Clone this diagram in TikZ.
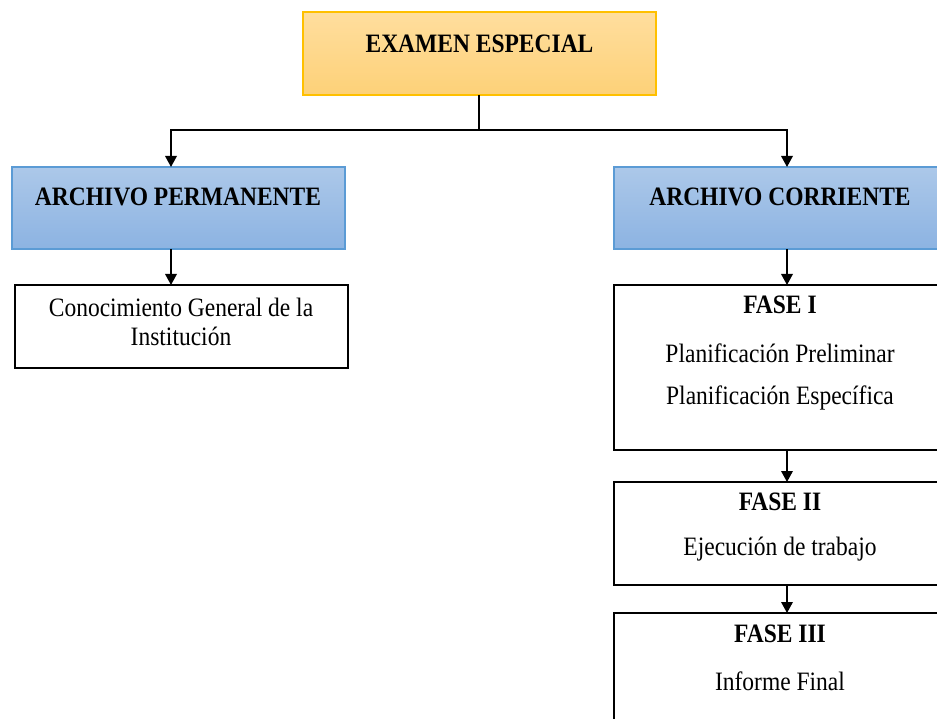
\documentclass[tikz,border=0pt]{standalone}
\usepackage{fontspec}
\usepackage{graphicx}
\setmainfont{Liberation Serif}
\usetikzlibrary{arrows.meta}

\definecolor{goldfill1}{RGB}{255,222,158}
\definecolor{goldfill2}{RGB}{253,209,120}
\definecolor{goldline}{RGB}{255,192,0}
\definecolor{bluefill1}{RGB}{172,200,233}
\definecolor{bluefill2}{RGB}{140,179,226}
\definecolor{blueline}{RGB}{91,155,213}

% slightly tall type, as set in the chart
\newcommand{\tall}[1]{\scalebox{1}[1.13]{#1}}

\tikzset{
  box/.style={rectangle, inner sep=0pt, outer sep=0pt},
  headbox/.style={box, top color=goldfill1, bottom color=goldfill2, draw=goldline, line width=1.5pt},
  filebox/.style={box, top color=bluefill1, bottom color=bluefill2, draw=blueline, line width=1.5pt},
  phasebox/.style={box, draw=black, fill=white, line width=1.8pt},
  title/.style={inner sep=0pt, font=\fontsize{23.5}{28}\selectfont\bfseries},
  body/.style={inner sep=0pt, font=\fontsize{23.5}{28}\selectfont},
  link/.style={draw=black, line width=1.8pt},
  arrowlink/.style={link, -{Triangle[length=11pt,width=11.5pt]}}
}

\begin{document}
\begin{tikzpicture}[x=1pt,y=-1pt]
\useasboundingbox (0,0) rectangle (937,719);
\clip (0,0) rectangle (937,719);

% boxes
\node[headbox, minimum width=353pt, minimum height=83pt] (exam) at (479.5,53.5) {};
\node[filebox, minimum width=333pt, minimum height=82pt] (perm) at (178.5,208) {};
\node[phasebox, minimum width=333pt, minimum height=83pt] (conoc) at (181.5,326.5) {};
\node[filebox, minimum width=333pt, minimum height=82pt] (corr) at (780.5,208) {};
\node[phasebox, minimum width=333pt, minimum height=165pt] (f1) at (780.5,367.5) {};
\node[phasebox, minimum width=333pt, minimum height=103pt] (f2) at (780.5,533.5) {};
\node[phasebox, minimum width=333pt, minimum height=160pt] (f3) at (780.5,693) {};

% texts
\node[title] (examT) at (479.5,44) {\tall{EXAMEN ESPECIAL}};
\node[title] (permT) at (178,197) {\tall{ARCHIVO PERMANENTE}};
\node[body] (conocA) at (181,307) {\tall{Conocimiento General de la}};
\node[body] (conocB) at (181,336) {\tall{Institución}};
\node[title] (corrT) at (780,197) {\tall{ARCHIVO CORRIENTE}};
\node[title] (f1T) at (780,305) {\tall{FASE I}};
\node[body] (f1A) at (780,353) {\tall{Planificación Preliminar}};
\node[body] (f1B) at (780,398) {\tall{Planificación Específica}};
\node[title] (f2T) at (780,502) {\tall{FASE II}};
\node[body] (f2A) at (780,549) {\tall{Ejecución de trabajo}};
\node[title] (f3T) at (780,634) {\tall{FASE III}};
\node[body] (f3A) at (780,681) {\tall{Informe Final}};

% connectors
\coordinate (split) at (479,130);
\coordinate (splitL) at (171,130);
\coordinate (splitR) at (787,130);
\draw[link] (exam.south -| split) -- (split);
\draw[link, line cap=rect] (splitL) -- (splitR);
\draw[arrowlink] (splitL) -- (splitL |- perm.north);
\draw[arrowlink] (splitR) -- (splitR |- corr.north);
\draw[arrowlink] (perm.south -| splitL) -- (conoc.north -| splitL);
\draw[arrowlink] (corr.south -| splitR) -- (f1.north -| splitR);
\draw[arrowlink] (f1.south -| splitR) -- (f2.north -| splitR);
\draw[arrowlink] (f2.south -| splitR) -- (f3.north -| splitR);
\end{tikzpicture}
\end{document}
